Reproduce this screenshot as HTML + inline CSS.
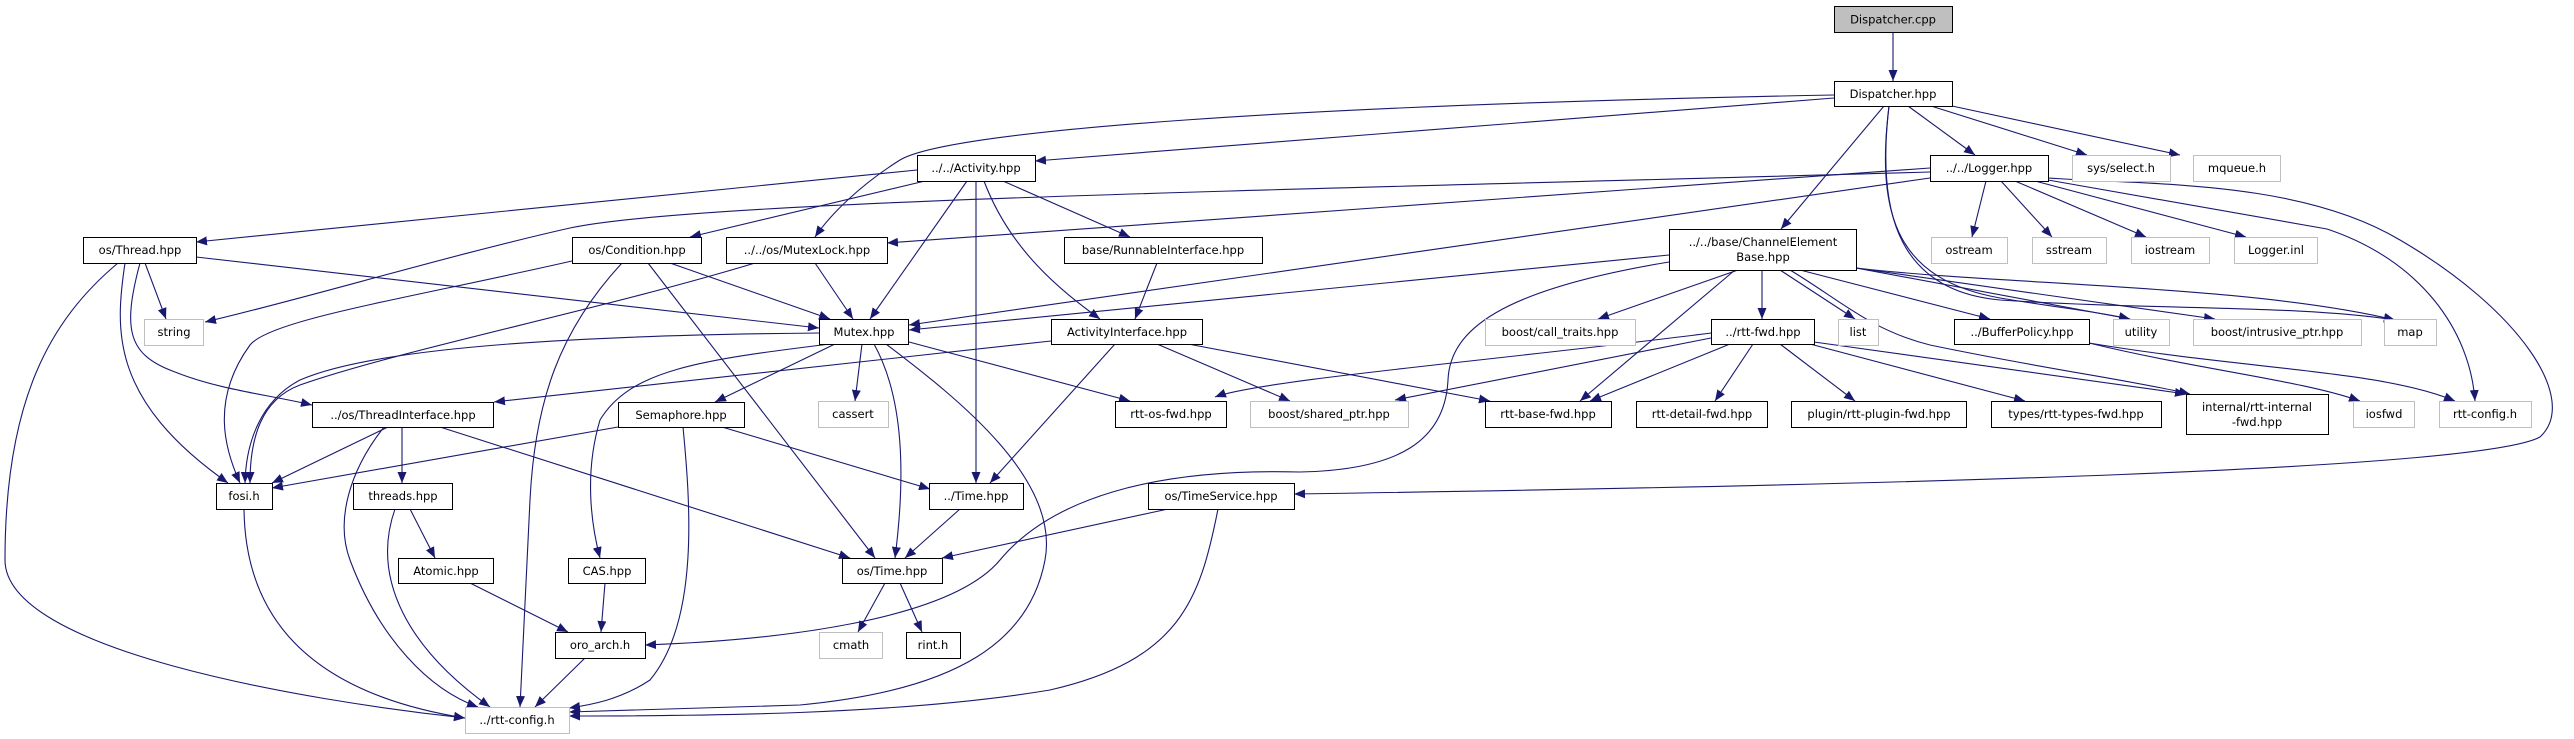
<!DOCTYPE html>
<html><head><meta charset="utf-8"><style>
html,body{margin:0;padding:0;background:#fff;}
svg{display:block;}
text{font-family:"DejaVu Sans","Liberation Sans",sans-serif;font-size:11.5px;fill:#000;}
.n{fill:#fff;stroke:#000;stroke-width:1;}
.g{fill:#fff;stroke:#bfbfbf;stroke-width:1;}
path.e{fill:none;stroke:#191970;stroke-width:1.1;marker-end:url(#a);}
</style></head><body>
<svg width="2574" height="739" viewBox="0 0 2574 739" xmlns="http://www.w3.org/2000/svg">
<defs><marker id="a" markerUnits="userSpaceOnUse" markerWidth="12" markerHeight="10" refX="11" refY="4.5" orient="auto"><path d="M0,0 L11,4.5 L0,9 z" fill="#191970"/></marker></defs>
<g>
<path class="e" d="M1893,32 L1893,81"/>
<path class="e" d="M1834,98 L1035,161"/>
<path class="e" d="M1834,95 C1300,105 950,130 900,160 C860,185 830,215 815,237"/>
<path class="e" d="M1884,106 L1781,229"/>
<path class="e" d="M1908,106 L1975,155"/>
<path class="e" d="M1931,106 L2087,155"/>
<path class="e" d="M1952,106 L2180,155"/>
<path class="e" d="M1889,106 C1878,200 1890,290 2000,300 C2150,310 2300,305 2395,320"/>
<path class="e" d="M1889,106 C1875,220 1900,280 2000,298 C2060,308 2100,312 2130,319"/>
<path class="e" d="M1986,181 L1972,237"/>
<path class="e" d="M2001,181 L2052,237"/>
<path class="e" d="M2015,181 L2146,237"/>
<path class="e" d="M2035,181 L2246,237"/>
<path class="e" d="M2048,180 L2327,229 C2420,260 2470,330 2475,401"/>
<path class="e" d="M2048,178 C2150,185 2300,180 2400,240 C2520,310 2580,400 2540,437 C2480,470 1900,485 1294,494"/>
<path class="e" d="M1930,172 C1300,190 700,200 570,228 C450,255 300,300 205,322"/>
<path class="e" d="M1930,168 L887,243"/>
<path class="e" d="M1930,178 L909,325"/>
<path class="e" d="M917,170 L196,242"/>
<path class="e" d="M925,181 L690,237"/>
<path class="e" d="M967,181 L870,319"/>
<path class="e" d="M976,181 L976,483"/>
<path class="e" d="M984,181 C1010,250 1060,290 1100,319"/>
<path class="e" d="M1003,181 L1130,237"/>
<path class="e" d="M145,263 L166,319"/>
<path class="e" d="M196,257 L819,328"/>
<path class="e" d="M125,263 C115,330 110,400 228,483"/>
<path class="e" d="M140,263 C122,330 128,355 175,372 C220,390 270,395 312,405"/>
<path class="e" d="M118,263 C50,320 5,400 5,560 C5,650 300,700 465,718"/>
<path class="e" d="M572,261 C400,300 270,320 250,345 C210,400 225,450 240,483"/>
<path class="e" d="M670,263 L830,319"/>
<path class="e" d="M622,263 C560,330 535,400 530,500 L520,707"/>
<path class="e" d="M648,263 L875,558"/>
<path class="e" d="M815,263 L853,319"/>
<path class="e" d="M755,263 C600,310 400,350 300,385 C260,400 250,440 250,483"/>
<path class="e" d="M1157,263 L1135,319"/>
<path class="e" d="M819,333 C600,335 380,345 300,380 C262,400 246,440 245,483"/>
<path class="e" d="M835,344 L715,402"/>
<path class="e" d="M862,344 L855,401"/>
<path class="e" d="M830,344 C700,360 630,370 600,420 C585,470 590,520 600,558"/>
<path class="e" d="M874,344 C905,400 905,480 895,558"/>
<path class="e" d="M909,342 L1130,401"/>
<path class="e" d="M886,344 C960,400 1060,480 1045,560 C1030,640 960,690 800,705 L569,712"/>
<path class="e" d="M1051,341 L494,402"/>
<path class="e" d="M1115,344 L990,483"/>
<path class="e" d="M1157,344 L1290,401"/>
<path class="e" d="M1188,344 L1490,401"/>
<path class="e" d="M1669,255 L909,330"/>
<path class="e" d="M1738,270 L1598,319"/>
<path class="e" d="M1762,270 L1762,319"/>
<path class="e" d="M1780,270 L1855,319"/>
<path class="e" d="M1800,270 L1990,319"/>
<path class="e" d="M1669,262 C1500,290 1450,330 1448,380 C1445,440 1400,470 1300,472 C1150,468 1050,500 1000,560 C950,620 780,640 645,645"/>
<path class="e" d="M1735,270 L1580,401"/>
<path class="e" d="M1790,270 C1840,300 1870,330 1930,345 C2050,370 2130,380 2190,394"/>
<path class="e" d="M1856,268 L2130,319"/>
<path class="e" d="M1856,268 L2215,319"/>
<path class="e" d="M1856,268 C2000,285 2250,285 2395,320"/>
<path class="e" d="M1711,333 C1500,360 1260,380 1215,397"/>
<path class="e" d="M1711,338 L1395,400"/>
<path class="e" d="M1730,344 L1590,401"/>
<path class="e" d="M1753,344 L1715,401"/>
<path class="e" d="M1780,344 L1855,401"/>
<path class="e" d="M1810,344 L2025,401"/>
<path class="e" d="M1814,342 L2186,394"/>
<path class="e" d="M2089,343 C2200,370 2300,380 2360,401"/>
<path class="e" d="M2089,343 C2250,370 2380,370 2455,401"/>
<path class="e" d="M388,427 L272,483"/>
<path class="e" d="M402,427 L402,483"/>
<path class="e" d="M384,427 C350,470 335,520 350,560 C380,640 430,690 478,707"/>
<path class="e" d="M440,427 L850,558"/>
<path class="e" d="M618,427 L272,488"/>
<path class="e" d="M722,427 L930,489"/>
<path class="e" d="M683,427 C690,500 700,620 650,680 C620,700 590,705 569,708"/>
<path class="e" d="M244,509 C245,600 290,690 465,718"/>
<path class="e" d="M410,509 L435,558"/>
<path class="e" d="M395,509 C370,580 410,650 490,707"/>
<path class="e" d="M470,583 L568,632"/>
<path class="e" d="M605,583 L601,632"/>
<path class="e" d="M585,658 L535,707"/>
<path class="e" d="M960,509 L905,558"/>
<path class="e" d="M1168,509 L942,558"/>
<path class="e" d="M1218,509 C1200,600 1180,660 1050,690 C900,715 700,716 569,716"/>
<path class="e" d="M885,583 L858,632"/>
<path class="e" d="M900,583 L922,632"/>
</g>
<g>
<rect x="1834.5" y="6.5" width="118" height="26" fill="#bfbfbf" stroke="#000"/><text x="1893" y="23.5" text-anchor="middle">Dispatcher.cpp</text>
<rect class="n" x="1834.5" y="81.5" width="118" height="25"/><text x="1893" y="98" text-anchor="middle">Dispatcher.hpp</text>
<rect class="n" x="917.5" y="155.5" width="118" height="26"/><text x="976" y="172" text-anchor="middle">../../Activity.hpp</text>
<rect class="n" x="1930.5" y="155.5" width="118" height="26"/><text x="1989" y="172" text-anchor="middle">../../Logger.hpp</text>
<rect class="g" x="2072.5" y="155.5" width="98" height="26"/><text x="2121" y="172" text-anchor="middle">sys/select.h</text>
<rect class="g" x="2193.5" y="155.5" width="87" height="26"/><text x="2237" y="172" text-anchor="middle">mqueue.h</text>
<rect class="n" x="83.5" y="237.5" width="113" height="26"/><text x="140" y="254" text-anchor="middle">os/Thread.hpp</text>
<rect class="n" x="572.5" y="237.5" width="129" height="26"/><text x="637" y="254" text-anchor="middle">os/Condition.hpp</text>
<rect class="n" x="726.5" y="237.5" width="161" height="26"/><text x="807" y="254" text-anchor="middle">../../os/MutexLock.hpp</text>
<rect class="n" x="1064.5" y="237.5" width="198" height="26"/><text x="1163" y="254" text-anchor="middle">base/RunnableInterface.hpp</text>
<rect class="n" x="1669.5" y="229.5" width="187" height="41"/><text x="1763" y="246" text-anchor="middle">../../base/ChannelElement</text><text x="1763" y="261" text-anchor="middle">Base.hpp</text>
<rect class="g" x="1931.5" y="237.5" width="76" height="26"/><text x="1969" y="254" text-anchor="middle">ostream</text>
<rect class="g" x="2032.5" y="237.5" width="74" height="26"/><text x="2069" y="254" text-anchor="middle">sstream</text>
<rect class="g" x="2131.5" y="237.5" width="78" height="26"/><text x="2170" y="254" text-anchor="middle">iostream</text>
<rect class="g" x="2234.5" y="237.5" width="83" height="26"/><text x="2276" y="254" text-anchor="middle">Logger.inl</text>
<rect class="g" x="144.5" y="319.5" width="59" height="26"/><text x="174" y="336" text-anchor="middle">string</text>
<rect class="n" x="819.5" y="319.5" width="89" height="25"/><text x="864" y="336" text-anchor="middle">Mutex.hpp</text>
<rect class="n" x="1051.5" y="319.5" width="151" height="25"/><text x="1127" y="336" text-anchor="middle">ActivityInterface.hpp</text>
<rect class="g" x="1485.5" y="319.5" width="150" height="26"/><text x="1560" y="336" text-anchor="middle">boost/call_traits.hpp</text>
<rect class="n" x="1711.5" y="319.5" width="103" height="25"/><text x="1763" y="336" text-anchor="middle">../rtt-fwd.hpp</text>
<rect class="g" x="1838.5" y="319.5" width="40" height="26"/><text x="1858" y="336" text-anchor="middle">list</text>
<rect class="n" x="1954.5" y="319.5" width="135" height="25"/><text x="2022" y="336" text-anchor="middle">../BufferPolicy.hpp</text>
<rect class="g" x="2113.5" y="319.5" width="56" height="26"/><text x="2141" y="336" text-anchor="middle">utility</text>
<rect class="g" x="2193.5" y="319.5" width="168" height="26"/><text x="2277" y="336" text-anchor="middle">boost/intrusive_ptr.hpp</text>
<rect class="g" x="2384.5" y="319.5" width="52" height="26"/><text x="2410" y="336" text-anchor="middle">map</text>
<rect class="n" x="312.5" y="402.5" width="181" height="25"/><text x="403" y="419" text-anchor="middle">../os/ThreadInterface.hpp</text>
<rect class="n" x="618.5" y="402.5" width="126" height="25"/><text x="681" y="419" text-anchor="middle">Semaphore.hpp</text>
<rect class="g" x="818.5" y="401.5" width="70" height="26"/><text x="853" y="418" text-anchor="middle">cassert</text>
<rect class="n" x="1115.5" y="401.5" width="111" height="26"/><text x="1171" y="418" text-anchor="middle">rtt-os-fwd.hpp</text>
<rect class="g" x="1250.5" y="401.5" width="158" height="26"/><text x="1329" y="418" text-anchor="middle">boost/shared_ptr.hpp</text>
<rect class="n" x="1485.5" y="401.5" width="126" height="26"/><text x="1548" y="418" text-anchor="middle">rtt-base-fwd.hpp</text>
<rect class="n" x="1636.5" y="401.5" width="131" height="26"/><text x="1702" y="418" text-anchor="middle">rtt-detail-fwd.hpp</text>
<rect class="n" x="1791.5" y="401.5" width="175" height="26"/><text x="1879" y="418" text-anchor="middle">plugin/rtt-plugin-fwd.hpp</text>
<rect class="n" x="1991.5" y="401.5" width="170" height="26"/><text x="2076" y="418" text-anchor="middle">types/rtt-types-fwd.hpp</text>
<rect class="n" x="2186.5" y="394.5" width="142" height="40"/><text x="2257" y="411" text-anchor="middle">internal/rtt-internal</text><text x="2257" y="426" text-anchor="middle">-fwd.hpp</text>
<rect class="g" x="2353.5" y="401.5" width="61" height="26"/><text x="2384" y="418" text-anchor="middle">iosfwd</text>
<rect class="g" x="2439.5" y="401.5" width="92" height="26"/><text x="2485" y="418" text-anchor="middle">rtt-config.h</text>
<rect class="n" x="216.5" y="483.5" width="56" height="26"/><text x="244" y="500" text-anchor="middle">fosi.h</text>
<rect class="n" x="353.5" y="483.5" width="99" height="26"/><text x="403" y="500" text-anchor="middle">threads.hpp</text>
<rect class="n" x="929.5" y="483.5" width="94" height="26"/><text x="976" y="500" text-anchor="middle">../Time.hpp</text>
<rect class="n" x="1148.5" y="483.5" width="146" height="26"/><text x="1221" y="500" text-anchor="middle">os/TimeService.hpp</text>
<rect class="n" x="398.5" y="558.5" width="95" height="25"/><text x="446" y="575" text-anchor="middle">Atomic.hpp</text>
<rect class="n" x="568.5" y="558.5" width="77" height="25"/><text x="607" y="575" text-anchor="middle">CAS.hpp</text>
<rect class="n" x="842.5" y="558.5" width="100" height="25"/><text x="892" y="575" text-anchor="middle">os/Time.hpp</text>
<rect class="n" x="555.5" y="632.5" width="90" height="26"/><text x="600" y="649" text-anchor="middle">oro_arch.h</text>
<rect class="g" x="819.5" y="632.5" width="63" height="26"/><text x="851" y="649" text-anchor="middle">cmath</text>
<rect class="n" x="906.5" y="632.5" width="54" height="26"/><text x="933" y="649" text-anchor="middle">rint.h</text>
<rect class="g" x="465.5" y="707.5" width="104" height="26"/><text x="517" y="724" text-anchor="middle">../rtt-config.h</text>
</g>
</svg>
</body></html>
